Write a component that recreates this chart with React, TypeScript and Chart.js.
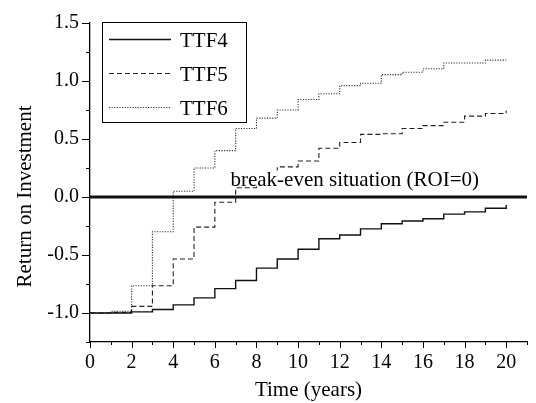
import React, { useEffect, useRef } from 'react';
import { Chart, registerables } from 'chart.js';

Chart.register(...registerables);

// ---- data ----
const years = [0, 1, 2, 3, 4, 5, 6, 7, 8, 9, 10, 11, 12, 13, 14, 15, 16, 17, 18, 19, 20];
const ttf4 = [-1.0, -1.0, -0.99, -0.97, -0.93, -0.87, -0.79, -0.72, -0.613, -0.534, -0.45, -0.36, -0.328, -0.275, -0.23, -0.207, -0.188, -0.148, -0.128, -0.097, -0.069];
const ttf5 = [-1.0, -0.995, -0.943, -0.765, -0.534, -0.26, -0.045, 0.08, 0.17, 0.26, 0.31, 0.42, 0.47, 0.54, 0.545, 0.59, 0.615, 0.644, 0.697, 0.72, 0.745];
const ttf6 = [-1.0, -0.985, -0.765, -0.3, 0.05, 0.25, 0.4, 0.59, 0.68, 0.75, 0.84, 0.89, 0.96, 0.98, 1.055, 1.075, 1.105, 1.155, 1.155, 1.18, 1.18];
const seriesNames = ['TTF4', 'TTF5', 'TTF6'];
const breakEvenX = [0, 21];
const breakEvenY = [0, 0];
const breakEvenLabel = 'break-even situation (ROI=0)';
const breakEvenLabelX = 6.75;
const xMajorTicks = [0, 2, 4, 6, 8, 10, 12, 14, 16, 18, 20];
const yMajorTicks = [-1.0, -0.5, 0.0, 0.5, 1.0, 1.5];
const xTitle = 'Time (years)';
const yTitle = 'Return on Investment';

const FONT = '"Liberation Serif", "Times New Roman", serif';

const isMajor = (list: number[], v: number) => list.some((m) => Math.abs(m - v) < 1e-9);

const decorPlugin = {
  id: 'decor',
  afterDatasetsDraw(chart: any) {
    const { ctx, scales } = chart;
    const x = scales.x;
    const y = scales.y;
    ctx.save();
    ctx.font = `21px ${FONT}`;
    const tx = x.getPixelForValue(breakEvenLabelX);
    const ty = y.getPixelForValue(0) - 11.5;
    const w = ctx.measureText(breakEvenLabel).width;
    ctx.fillStyle = '#fff';
    ctx.fillRect(tx - 1, ty - 15, w + 2, 15);
    ctx.fillStyle = '#000';
    ctx.textBaseline = 'alphabetic';
    ctx.textAlign = 'left';
    ctx.fillText(breakEvenLabel, tx, ty);
    ctx.restore();
  },
  afterDraw(chart: any) {
    const { ctx, chartArea, scales } = chart;
    const x = scales.x;
    const y = scales.y;
    ctx.save();
    // tick marks
    ctx.strokeStyle = '#000';
    ctx.lineWidth = 1;
    x.ticks.forEach((t: any) => {
      const px = Math.round(x.getPixelForValue(t.value)) + 0.5;
      const len = isMajor(xMajorTicks, t.value) ? 6 : 3;
      ctx.beginPath();
      ctx.moveTo(px, chartArea.bottom);
      ctx.lineTo(px, chartArea.bottom + len);
      ctx.stroke();
    });
    y.ticks.forEach((t: any) => {
      const py = Math.round(y.getPixelForValue(t.value)) + 0.5;
      const len = isMajor(yMajorTicks, t.value) ? 8 : 4;
      ctx.beginPath();
      ctx.moveTo(chartArea.left, py);
      ctx.lineTo(chartArea.left - len, py);
      ctx.stroke();
    });

    // y title
    ctx.font = `21px ${FONT}`;
    ctx.fillStyle = '#000';
    ctx.textAlign = 'center';
    ctx.textBaseline = 'middle';
    ctx.save();
    ctx.translate(25, (chartArea.top + chartArea.bottom) / 2 + 14);
    ctx.rotate(-Math.PI / 2);
    ctx.fillText(yTitle, 0, 0);
    ctx.restore();

    // legend box
    const lx = chartArea.left + 12;
    const ly = chartArea.top - 1;
    const lw = 144;
    const lh = 100;
    ctx.lineWidth = 1;
    ctx.strokeStyle = '#000';
    ctx.setLineDash([]);
    ctx.strokeRect(lx + 0.5, ly + 0.5, lw, lh);
    ctx.textAlign = 'left';
    ctx.textBaseline = 'alphabetic';
    chart.data.datasets.slice(0, seriesNames.length).forEach((ds: any, i: number) => {
      const yy = ly + 17 + i * 34 + 0.5;
      ctx.save();
      ctx.strokeStyle = ds.borderColor;
      ctx.lineWidth = ds.borderWidth;
      ctx.setLineDash(ds.borderDash || []);
      ctx.beginPath();
      ctx.moveTo(lx + 7, yy);
      ctx.lineTo(lx + 69, yy);
      ctx.stroke();
      ctx.restore();
      ctx.fillStyle = '#000';
      ctx.fillText(ds.label, lx + 78, yy + 7);
    });
    ctx.restore();
  },
};

export default function App() {
  const canvasRef = useRef<HTMLCanvasElement | null>(null);

  useEffect(() => {
    const canvas = canvasRef.current;
    if (!canvas) return;
    const toPts = (vals: number[]) => years.map((yr, i) => ({ x: yr, y: vals[i] }));
    const chart = new Chart(canvas, {
      type: 'line',
      data: {
        datasets: [
          {
            label: seriesNames[0],
            data: toPts(ttf4),
            borderColor: '#111',
            borderWidth: 1.4,
            stepped: 'before',
            pointRadius: 0,
            fill: false,
          },
          {
            label: seriesNames[1],
            data: toPts(ttf5),
            borderColor: '#222',
            borderWidth: 1.1,
            borderDash: [5, 3],
            stepped: 'before',
            pointRadius: 0,
            fill: false,
          },
          {
            label: seriesNames[2],
            data: toPts(ttf6),
            borderColor: '#333',
            borderWidth: 1.1,
            borderDash: [1.2, 1.4],
            stepped: 'before',
            pointRadius: 0,
            fill: false,
          },
          {
            label: 'ROI=0',
            data: breakEvenX.map((xv, i) => ({ x: xv, y: breakEvenY[i] })),
            borderColor: '#111',
            borderWidth: 3,
            pointRadius: 0,
            fill: false,
          },
        ],
      },
      options: {
        animation: false,
        responsive: false,
        maintainAspectRatio: false,
        layout: { padding: { top: 16, right: 3, left: 0, bottom: 0 } },
        plugins: { legend: { display: false }, tooltip: { enabled: false } },
        elements: { point: { radius: 0 } },
        scales: {
          x: {
            type: 'linear',
            min: 0,
            max: 21,
            afterFit: (s: any) => {
              s.height = 61;
            },
            ticks: {
              stepSize: 1,
              autoSkip: false,
              maxRotation: 0,
              padding: 9,
              color: '#000',
              font: { family: FONT, size: 20 },
              callback: (v: any) => (isMajor(xMajorTicks, Number(v)) ? String(v) : ''),
            },
            grid: { display: true, drawOnChartArea: false, drawTicks: false },
            border: { display: true, color: '#000', width: 1.3 },
            title: {
              display: true,
              text: xTitle,
              color: '#000',
              font: { family: FONT, size: 21 },
              padding: { top: 0, bottom: 0 },
            },
          },
          y: {
            type: 'linear',
            min: -1.25,
            max: 1.5,
            afterFit: (s: any) => {
              s.width = 90;
            },
            ticks: {
              stepSize: 0.25,
              autoSkip: false,
              padding: 11,
              color: '#000',
              font: { family: FONT, size: 20 },
              callback: (v: any) => (isMajor(yMajorTicks, Number(v)) ? Number(v).toFixed(1) : ''),
            },
            grid: { display: true, drawOnChartArea: false, drawTicks: false },
            border: { display: true, color: '#000', width: 1.3 },
          },
        },
      },
      plugins: [decorPlugin],
    } as any);
    return () => chart.destroy();
  }, []);

  return (
    <div style={{ position: 'fixed', left: 0, top: 0, width: 536, height: 403, background: '#fff' }}>
      <canvas ref={canvasRef} width={536} height={403} style={{ display: 'block' }} />
    </div>
  );
}
